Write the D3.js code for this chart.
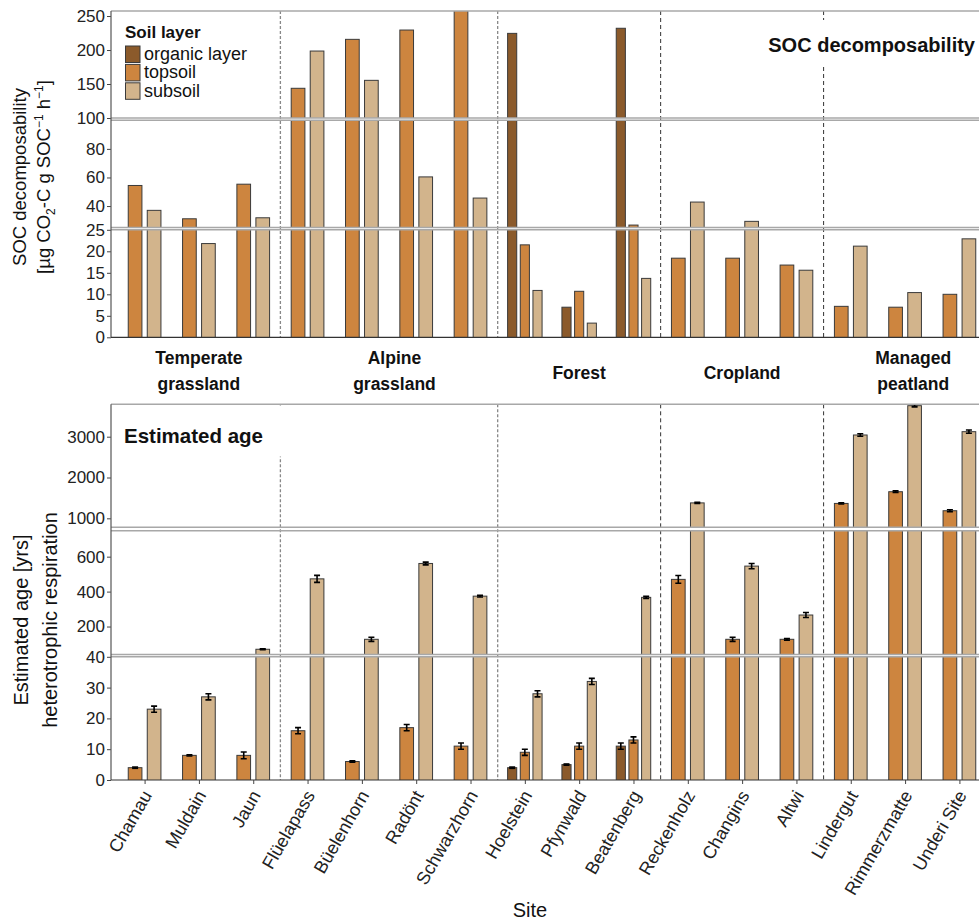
<!DOCTYPE html>
<html>
<head>
<meta charset="utf-8">
<script src="https://cdn.jsdelivr.net/npm/d3@7"></script>
<style>
  body { margin: 0; background: #fff; }
  svg { display: block; font-family: "Liberation Sans", Arial, sans-serif; }
</style>
</head>
<body>
<svg id="chart"></svg>
<script>
// data
var sites = ["Chamau", "Muldain", "Jaun", "Flüelapass", "Büelenhorn", "Radönt", "Schwarzhorn",
  "Hoelstein", "Pfynwald", "Beatenberg", "Reckenholz", "Changins", "Altwi",
  "Lindergut", "Rimmerzmatte", "Underi Site"];
var layers = ["organic layer", "topsoil", "subsoil"];
var layerColors = ["#8B5A2B", "#CD853F", "#D2B48C"];

var groupNames = [["Temperate", "grassland"], ["Alpine", "grassland"], ["Forest"], ["Cropland"], ["Managed", "peatland"]];
var groupCenters = [1, 4.6, 8, 11, 14.15];   // in site-index units
var groupBreaksAfter = [2, 6, 9, 12];

// SOC decomposability [µg CO2-C g SOC-1 h-1]
var decompOrganic = [null, null, null, null, null, null, null, 224.5, 7.0, 232, null, null, null, null, null, null];
var decompTopsoil = [54.4, 31.1, 55.3, 143.7, 215.7, 229.4, 270, 21.5, 10.7, 26.7, 18.4, 18.4, 16.8, 7.2, 7.0, 10.0];
var decompSubsoil = [37.0, 21.8, 31.8, 198.5, 155.4, 60.4, 45.6, 10.9, 3.3, 13.7, 42.8, 29.3, 15.6, 21.2, 10.4, 22.9];
var decompBreaks = [[0, 25], [25, 100], [100, 257.4]];
var decompTicks = [[0, 5, 10, 15, 20, 25], [40, 60, 80], [100, 150, 200, 250]];

// Estimated age [yrs]
var ageOrganic = [null, null, null, null, null, null, null, 4, 5, 11, null, null, null, null, null, null];
var ageTopsoil = [4, 8, 8, 16, 6, 17, 11, 9, 11, 13, 470, 127, 127, 1365, 1652, 1186];
var ageSubsoil = [23, 27, 70, 473, 127, 561, 374, 28, 32, 367, 1378, 546, 266, 3042, 3760, 3123];
var ageOrganicErr = [null, null, null, null, null, null, null, 0.2, 0.2, 1.0, null, null, null, null, null, null];
var ageTopsoilErr = [0.2, 0.2, 1.1, 1.0, 0.2, 1.0, 1.0, 1.0, 1.0, 1.0, 22, 12, 5, 15, 20, 25];
var ageSubsoilErr = [1.0, 1.0, 2, 20, 12, 8, 5, 1.0, 1.0, 6, 15, 15, 14, 30, 30, 40];
var ageBreaks = [[0, 40], [40, 748.6], [780, 3794]];
var ageTicks = [[0, 10, 20, 30, 40], [200, 400, 600], [1000, 2000, 3000]];

var width = 979, height = 922;
var left = 111, right = 992;

var svg = d3.select("#chart").attr("width", width).attr("height", height);

var x = d3.scalePoint().domain(sites).range([left + 1, right]).padding(0.6);
var step = x.step();
var xi = d3.scaleLinear().domain([0, sites.length - 1]).range([x(sites[0]), x(sites[sites.length - 1])]);
var color = d3.scaleOrdinal().domain(layers).range(layerColors);

function makeSegs(breaks, ranges) {
  return breaks.map(function (b, i) {
    return { lo: b[0], hi: b[1], y: d3.scaleLinear().domain(b).range(ranges[i]), r: ranges[i] };
  });
}
var topSegs = makeSegs(decompBreaks, [[337.3, 229.8], [227.5, 120.3], [118, 11]]);
var botSegs = makeSegs(ageBreaks, [[780, 656.8], [654.5, 530.7], [527.3, 404.3]]);

function buildRows(series, errs) {
  var rows = [];
  sites.forEach(function (s, i) {
    var present = [];
    series.forEach(function (arr, j) { if (arr[i] != null) present.push(j); });
    present.forEach(function (j, k) {
      var n = present.length;
      var slot = step * 0.7 / n;
      rows.push({
        site: s, layer: layers[j], value: series[j][i],
        err: errs ? errs[j][i] : null,
        cx: x(s) + (k - (n - 1) / 2) * slot,
        bw: slot * 0.72
      });
    });
  });
  return rows;
}

var topRows = buildRows([decompOrganic, decompTopsoil, decompSubsoil]);
var botRows = buildRows([ageOrganic, ageTopsoil, ageSubsoil], [ageOrganicErr, ageTopsoilErr, ageSubsoilErr]);

var defs = svg.append("defs");
var clipId = 0;

function drawPanel(segs, rows, ticks) {
  var g = svg.append("g");
  var top = segs[segs.length - 1].r[1], bottom = segs[0].r[0];

  // group dividers
  groupBreaksAfter.forEach(function (b, i) {
    var xx = (x(sites[b]) + x(sites[b + 1])) / 2;
    g.append("line")
      .attr("x1", xx).attr("x2", xx).attr("y1", top).attr("y2", bottom)
      .attr("stroke", i < 2 ? "#888" : "#333")
      .attr("stroke-width", i < 2 ? 1.3 : 1)
      .attr("stroke-dasharray", i < 2 ? "3,2" : "4,3");
  });

  segs.forEach(function (seg, si) {
    var id = "clip" + (clipId++);
    defs.append("clipPath").attr("id", id).append("rect")
      .attr("x", left).attr("y", seg.r[1]).attr("width", right - left).attr("height", seg.r[0] - seg.r[1]);
    var sg = g.append("g").attr("clip-path", "url(#" + id + ")");
    var inSeg = rows.filter(function (d) { return d.value > seg.lo; });
    sg.selectAll("rect.bar").data(inSeg).enter().append("rect")
      .attr("class", "bar")
      .attr("x", function (d) { return d.cx - d.bw / 2; })
      .attr("y", function (d) { return seg.y(Math.min(d.value, seg.hi + 20)); })
      .attr("width", function (d) { return d.bw; })
      .attr("height", function (d) { return seg.y(seg.lo) + 3 - seg.y(Math.min(d.value, seg.hi + 20)); })
      .attr("fill", function (d) { return color(d.layer); })
      .attr("stroke", "#3a3a3a")
      .attr("stroke-width", 1);

    var errRows = rows.filter(function (d) { return d.err != null && d.value > seg.lo && d.value <= seg.hi + 40; });
    var eb = sg.selectAll("g.err").data(errRows).enter().append("g").attr("class", "err")
      .attr("stroke", "#000").attr("stroke-width", 1.6);
    eb.append("line")
      .attr("x1", function (d) { return d.cx; }).attr("x2", function (d) { return d.cx; })
      .attr("y1", function (d) { return seg.y(d.value - d.err); })
      .attr("y2", function (d) { return seg.y(d.value + d.err); });
    [-1, 1].forEach(function (sgn) {
      eb.append("line")
        .attr("x1", function (d) { return d.cx - 3; }).attr("x2", function (d) { return d.cx + 3; })
        .attr("y1", function (d) { return seg.y(d.value + sgn * d.err); })
        .attr("y2", function (d) { return seg.y(d.value + sgn * d.err); });
    });

    // segment borders
    g.append("line").attr("x1", left).attr("x2", right).attr("y1", seg.r[1]).attr("y2", seg.r[1])
      .attr("stroke", "#a8a8a8").attr("stroke-width", 1.4);
    if (si > 0) {
      g.append("line").attr("x1", left).attr("x2", right).attr("y1", seg.r[0]).attr("y2", seg.r[0])
        .attr("stroke", "#a8a8a8").attr("stroke-width", 1.4);
    }

    var ax = g.append("g").attr("transform", "translate(" + left + ",0)")
      .call(d3.axisLeft(seg.y).tickValues(ticks[si]).tickFormat(d3.format("d")).tickSize(4).tickPadding(2));
    ax.select(".domain").remove();
    ax.selectAll(".tick line").attr("stroke", "#444");
    ax.selectAll(".tick text").attr("font-size", 17).attr("fill", "#222")
      .attr("font-family", "Liberation Sans, Arial, sans-serif");
  });

  g.append("line").attr("x1", left).attr("x2", left).attr("y1", top).attr("y2", bottom)
    .attr("stroke", "#555").attr("stroke-width", 1.2);
  g.append("line").attr("x1", left).attr("x2", right).attr("y1", bottom).attr("y2", bottom)
    .attr("stroke", "#333").attr("stroke-width", 1.2);
  return g;
}

// ---- top panel: SOC decomposability
var gTop = drawPanel(topSegs, topRows, decompTicks);

gTop.append("rect").attr("x", 755).attr("y", 20).attr("width", 230).attr("height", 45).attr("fill", "#fff");
gTop.append("text").attr("x", 975).attr("y", 52).attr("text-anchor", "end")
  .attr("font-size", 20).attr("font-weight", "bold").attr("fill", "#111")
  .text("SOC decomposability");

// legend
var leg = gTop.append("g").attr("transform", "translate(125,0)");
leg.append("text").attr("x", 0).attr("y", 38).attr("font-size", 17).attr("font-weight", "bold")
  .attr("fill", "#111").text("Soil layer");
layers.forEach(function (l, i) {
  var yy = 46 + i * 18.4;
  leg.append("rect").attr("x", 0.5).attr("y", yy).attr("width", 14.5).attr("height", 16.5)
    .attr("fill", color(l)).attr("stroke", "#3a3a3a").attr("stroke-width", 1);
  leg.append("text").attr("x", 19).attr("y", yy + 14).attr("font-size", 18).attr("fill", "#111").text(l);
});

// group labels under the top panel
groupNames.forEach(function (lines, i) {
  var t = svg.append("text").attr("x", xi(groupCenters[i])).attr("text-anchor", "middle")
    .attr("font-size", 17.5).attr("font-weight", "bold").attr("fill", "#111");
  if (lines.length === 1) {
    t.append("tspan").attr("x", xi(groupCenters[i])).attr("y", 379).text(lines[0]);
  } else {
    t.append("tspan").attr("x", xi(groupCenters[i])).attr("y", 363.5).text(lines[0]);
    t.append("tspan").attr("x", xi(groupCenters[i])).attr("y", 390).text(lines[1]);
  }
});

// top y title
var yt = svg.append("g").attr("transform", "translate(0,177) rotate(-90)");
yt.append("text").attr("x", 0).attr("y", 26).attr("text-anchor", "middle").attr("font-size", 18.5)
  .attr("fill", "#111").text("SOC decomposability");
var yt2 = yt.append("text").attr("x", 0).attr("y", 50).attr("text-anchor", "middle").attr("font-size", 18.5).attr("fill", "#111");
yt2.append("tspan").text("[µg CO");
yt2.append("tspan").attr("font-size", 12).attr("dy", 5).text("2");
yt2.append("tspan").attr("dy", -5).text("-C g SOC");
yt2.append("tspan").attr("font-size", 12).attr("dy", -7).text("−1");
yt2.append("tspan").attr("dy", 7).text(" h");
yt2.append("tspan").attr("font-size", 12).attr("dy", -7).text("−1");
yt2.append("tspan").attr("dy", 7).text("]");

// ---- bottom panel: Estimated age
var gBot = drawPanel(botSegs, botRows, ageTicks);

gBot.append("rect").attr("x", 118).attr("y", 405.5).attr("width", 170).attr("height", 51).attr("fill", "#fff");
gBot.append("text").attr("x", 124).attr("y", 443).attr("font-size", 20.5).attr("font-weight", "bold")
  .attr("fill", "#111").text("Estimated age");

var xAxis = svg.append("g").attr("transform", "translate(0,780)")
  .call(d3.axisBottom(x).tickSize(4));
xAxis.select(".domain").remove();
xAxis.selectAll(".tick line").attr("stroke", "#444");
xAxis.selectAll(".tick text")
  .attr("font-size", 18).attr("fill", "#222").attr("font-family", "Liberation Sans, Arial, sans-serif")
  .attr("text-anchor", "end").attr("x", 0).attr("y", 0).attr("dy", "0.35em")
  .attr("transform", "translate(2,12) rotate(-60)");

svg.append("text").attr("x", 530).attr("y", 917).attr("text-anchor", "middle")
  .attr("font-size", 20).attr("fill", "#111").text("Site");

var yb = svg.append("g").attr("transform", "translate(0,620) rotate(-90)");
yb.append("text").attr("x", 0).attr("y", 28).attr("text-anchor", "middle").attr("font-size", 20)
  .attr("fill", "#111").text("Estimated age [yrs]");
yb.append("text").attr("x", 0).attr("y", 57).attr("text-anchor", "middle").attr("font-size", 20)
  .attr("fill", "#111").text("heterotrophic respiration");
</script>
</body>
</html>
